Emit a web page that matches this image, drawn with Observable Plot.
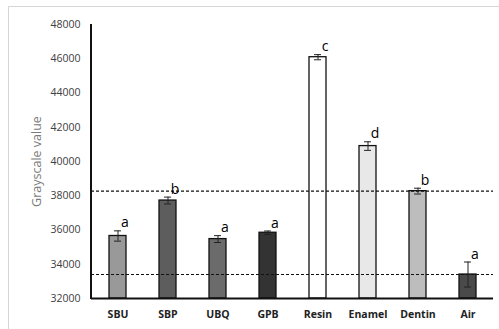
<!DOCTYPE html>
<html>
<head>
<meta charset="utf-8">
<script src="https://cdn.jsdelivr.net/npm/d3@7"></script>
<script src="https://cdn.jsdelivr.net/npm/@observablehq/plot@0.6"></script>
<style>
  html, body { margin: 0; padding: 0; background: #fff; }
  #wrap { position: relative; width: 499px; height: 329px; overflow: hidden; }
  #frame { position: absolute; left: 8px; top: 6px; width: 500px; height: 340px;
           border-left: 1.5px solid #d6d6d6; border-top: 1.5px solid #d6d6d6; }
  #chart { position: absolute; left: 0; top: 0; }
</style>
</head>
<body>
<div id="wrap"><div id="frame"></div><div id="chart"></div></div>
<script>
const categories = ["SBU", "SBP", "UBQ", "GPB", "Resin", "Enamel", "Dentin", "Air"];
const means = [35650, 37720, 35470, 35840, 46090, 40900, 38270, 33400];
const errors = [300, 200, 200, 100, 150, 250, 170, 730];
const letters = ["a", "b", "a", "a", "c", "d", "b", "a"];
const fills = ["#999999", "#5d5d5d", "#6b6b6b", "#333333", "#ffffff", "#e8e8e8", "#bdbdbd", "#4a4a4a"];
const yTicks = [32000, 34000, 36000, 38000, 40000, 42000, 44000, 46000, 48000];
const referenceLines = [means[6], means[7]];

const data = categories.map((c, i) => ({
  cat: c, mean: means[i], lo: means[i] - errors[i], hi: means[i] + errors[i],
  letter: letters[i], fill: fills[i]
}));

const chart = Plot.plot({
  width: 499,
  height: 329,
  marginLeft: 91,
  marginRight: 6,
  marginTop: 24,
  marginBottom: 31,
  style: { fontFamily: "'Open Sans', sans-serif", background: "transparent" },
  x: { domain: categories, paddingInner: 0.66, paddingOuter: 0.33, label: null },
  y: { domain: [32000, 48000], label: null },
  marks: [
    Plot.barY(data, { x: "cat", y1: 32000, y2: "mean", fill: "fill", stroke: "#111", strokeWidth: 1.3 }),
    Plot.ruleY(referenceLines, { stroke: "#111", strokeWidth: 1.1, strokeDasharray: "3,2" }),
    Plot.ruleX(data, { x: "cat", y1: "lo", y2: "hi", stroke: "#222", strokeWidth: 1 }),
    Plot.tickY(data, { x: "cat", y: "hi", stroke: "#222", strokeWidth: 1, insetLeft: 5, insetRight: 5 }),
    Plot.tickY(data, { x: "cat", y: "lo", stroke: "#222", strokeWidth: 1, insetLeft: 5, insetRight: 5 }),
    Plot.text(data, { x: "cat", y: "hi", text: "letter", dx: 7, dy: -8, fontSize: 14, fill: "#000", textAnchor: "middle" }),
    Plot.axisY({ ticks: yTicks, tickSize: 0, tickPadding: 11, tickFormat: d => String(d),
                 fontSize: 10.5, fill: "#404040", label: null }),
    Plot.axisX({ tickSize: 0, tickPadding: 12, fontSize: 10.5, fontWeight: "bold", fill: "#222", label: null }),
    Plot.ruleY([32000], { stroke: "#111", strokeWidth: 2 }),
    Plot.text(["Grayscale value"], { frameAnchor: "left", dx: -55, rotate: -90, fontSize: 12.5, fill: "#7a7a7a", textAnchor: "middle" })
  ]
});

// vertical y axis line
const svg = d3.select(chart);
const y = chart.scale("y");
svg.append("line")
  .attr("x1", 91).attr("x2", 91)
  .attr("y1", y.apply(48000)).attr("y2", y.apply(32000) + 1)
  .attr("stroke", "#111").attr("stroke-width", 2);

document.getElementById("chart").appendChild(chart);
</script>
</body>
</html>
